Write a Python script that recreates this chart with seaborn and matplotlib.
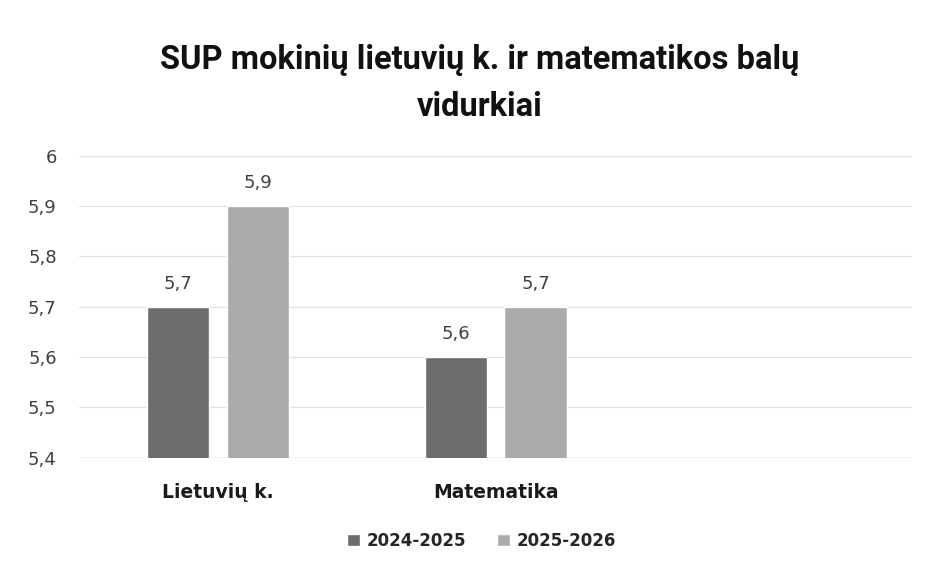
import numpy as np
import pandas as pd
import matplotlib
matplotlib.use("Agg")
import matplotlib.pyplot as plt
import seaborn as sns

categories = ["Lietuvių k.", "Matematika"]
years = ["2024-2025", "2025-2026"]
vals_2024 = [5.7, 5.6]
vals_2025 = [5.9, 5.7]
yticks = [5.4, 5.5, 5.6, 5.7, 5.8, 5.9, 6.0]

df = pd.DataFrame({
    "dalykas": categories * 2,
    "metai": [years[0]] * 2 + [years[1]] * 2,
    "balas": vals_2024 + vals_2025,
})

sns.set_theme(style="white")
plt.rcParams['font.family'] = ['DejaVu Sans']

fig = plt.figure(figsize=(9.29, 5.68), dpi=100)
ax = fig.add_axes([0.085, 0.194, 0.897, 0.532])

# third slot left empty like in the original
order = categories + [" "]
sns.barplot(data=df, x="dalykas", y="balas", hue="metai", order=order,
            palette=["#6c6c6c", "#aaaaaa"], width=0.575, gap=0.22,
            saturation=1, ax=ax, legend=True)

ax.set_ylim(5.4, 6.0)
ax.set_xlim(-0.5, 2.5)
ax.set_yticks(yticks)
ax.set_yticklabels([f"{v:g}".replace(".", ",") for v in yticks],
                   fontsize=13, color="#404040")
ax.set_xticklabels(order, fontsize=13.5, fontweight="bold", color="#1a1a1a")
ax.tick_params(axis="x", pad=18, length=0)
ax.tick_params(axis="y", pad=16, length=0)
ax.yaxis.grid(True, color="#e0e0e0", linewidth=0.9)
ax.set_axisbelow(True)
for s in ax.spines.values():
    s.set_visible(False)
ax.axhline(5.4, color="#cfcfcf", linewidth=1.0, zorder=0.5)
ax.set_xlabel("")
ax.set_ylabel("")

for cont in ax.containers:
    labels = [f"{b.get_height():g}".replace(".", ",") if not np.isnan(b.get_height()) else "" for b in cont]
    ax.bar_label(cont, labels=labels, padding=10, fontsize=13, color="#404040")

handles, labs = ax.get_legend_handles_labels()
ax.legend(handles, labs, loc="upper center", bbox_to_anchor=(0.483, -0.195),
          ncol=2, frameon=False, handlelength=0.75, handleheight=0.75,
          handletextpad=0.4, columnspacing=1.9,
          prop={"weight": "bold", "size": 12})

fig.suptitle("SUP mokinių lietuvių k. ir matematikos balų\nvidurkiai",
             x=0.516, y=0.922, fontsize=23.5, fontweight="bold", color="#111111",
             linespacing=1.6, family=["Roboto", "DejaVu Sans"])

fig.savefig("out.png", dpi=100)
